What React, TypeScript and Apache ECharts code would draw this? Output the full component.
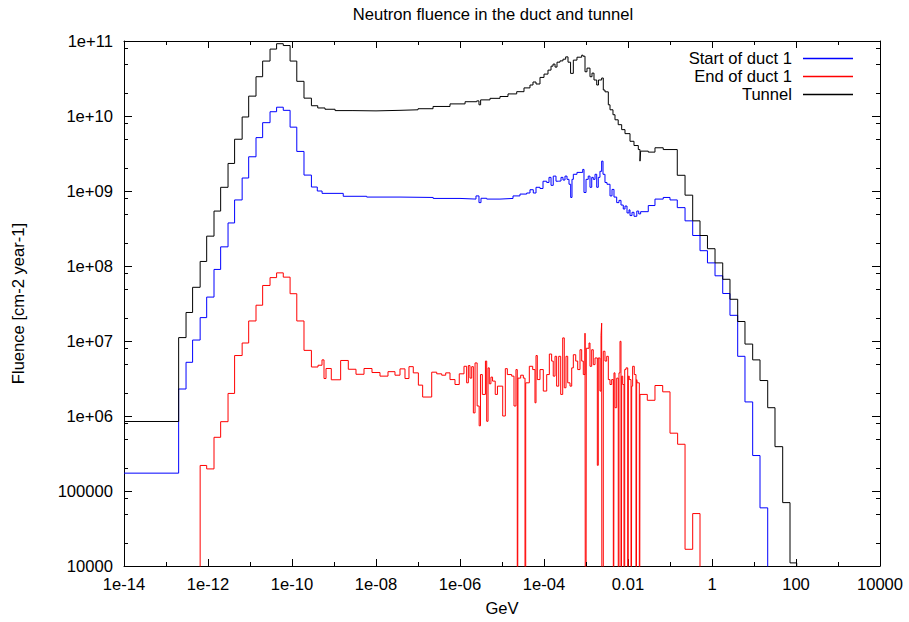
import React, { useEffect, useRef } from "react";
import * as echarts from "echarts";

const FONT = '"Liberation Sans", Arial, Helvetica, sans-serif';
const FS = 16.6;

const chartTitle = "Neutron fluence in the duct and tunnel";
const xAxisTitle = "GeV";
const yAxisTitle = "Fluence [cm-2 year-1]";
const seriesNames = ["Start of duct 1", "End of duct 1", "Tunnel"];
const seriesColors = ["#0000ff", "#ff0000", "#000000"];

const xTickExponents = [-14, -12, -10, -8, -6, -4, -2, 0, 2, 4];
const xTickLabels = ["1e-14", "1e-12", "1e-10", "1e-08", "1e-06", "1e-04", "0.01", "1", "100", "10000"];
const xMinorTicks = [1e-13, 1e-11, 1e-9, 1e-7, 1e-5, 1e-3, 1e-1, 10, 1e3];
const yTickExponents = [4, 5, 6, 7, 8, 9, 10, 11];
const yTickLabels = ["10000", "100000", "1e+06", "1e+07", "1e+08", "1e+09", "1e+10", "1e+11"];
const yMinorTicks = [
  2e4, 5e4, 8e4, 2e5, 5e5, 8e5, 2e6, 5e6, 8e6, 2e7, 5e7, 8e7,
  2e8, 5e8, 8e8, 2e9, 5e9, 8e9, 2e10, 5e10, 8e10,
];

// [energy (GeV, left edge of bin), fluence]; 0 = empty bin
const startPoints: [number, number][] = [
  [1e-14, 1.73e5], [2.0e-13, 2.29e6], [3.0e-13, 5.2e6], [4.3e-13, 1.03e7], [6.5e-13, 2.05e7],
  [9.3e-13, 3.85e7], [1.39e-12, 9.0e7], [2.0e-12, 1.8e8], [3.0e-12, 3.75e8], [4.3e-12, 7.6e8],
  [6.5e-12, 1.49e9], [9.3e-12, 2.86e9], [1.39e-11, 5.15e9], [2.0e-11, 8.15e9], [3.0e-11, 1.14e10],
  [4.3e-11, 1.31e10], [6.2e-11, 1.19e10], [9.0e-11, 7.1e9], [1.3e-10, 3.37e9], [1.93e-10, 1.63e9],
  [2.9e-10, 1.13e9], [4.0e-10, 1.0e9], [5.2e-10, 9.3e8], [1.66e-9, 8.5e8], [6.0e-9, 8.3e8],
  [3.73e-8, 8.2e8], [2.3e-7, 7.96e8], [1.0e-6, 7.8e8], [2.4e-6, 8.6e8], [2.83e-6, 7.0e8],
  [3.16e-6, 8.0e8], [4.32e-6, 7.8e8], [8.96e-6, 7.96e8], [1.83e-5, 8.6e8], [2.68e-5, 9.1e8],
  [3.87e-5, 9.4e8], [4.64e-5, 1.04e9], [5.56e-5, 9.4e8], [6.45e-5, 1.12e9], [8.03e-5, 1.08e9],
  [9.47e-5, 1.35e9], [1.16e-4, 1.3e9], [1.315e-4, 1.52e9], [1.47e-4, 1.19e9], [1.66e-4, 1.58e9],
  [1.93e-4, 1.35e9], [2.19e-4, 1.36e9], [2.54e-4, 1.52e9], [2.83e-4, 1.4e9], [3.16e-4, 1.58e9],
  [3.53e-4, 1.43e9], [3.94e-4, 1.23e9], [4.32e-4, 8.2e8], [4.64e-4, 1.43e9], [4.99e-4, 1.67e9],
  [6.1e-4, 1.77e9], [8.35e-4, 1.94e9], [8.96e-4, 9.55e8], [1.0e-3, 1.43e9], [1.13e-3, 1.58e9],
  [1.245e-3, 1.12e9], [1.37e-3, 1.52e9], [1.49e-3, 1.43e9], [1.64e-3, 1.67e9], [1.8e-3, 1.12e9],
  [1.96e-3, 1.52e9], [2.15e-3, 1.83e9], [2.36e-3, 2.5e9], [2.54e-3, 1.67e9], [2.83e-3, 1.3e9],
  [3.16e-3, 1.23e9], [3.73e-3, 8.6e8], [4.16e-3, 1.05e9], [4.64e-3, 8.3e8], [5.38e-3, 7.0e8],
  [6.1e-3, 7.5e8], [6.81e-3, 6.5e8], [7.72e-3, 5.75e8], [8.48e-3, 6.3e8], [9.47e-3, 5.1e8],
  [1.056e-2, 5.6e8], [1.116e-2, 4.7e8], [1.245e-2, 5.2e8], [1.39e-2, 4.6e8], [1.62e-2, 5.4e8],
  [1.8e-2, 4.95e8], [2.0e-2, 5.3e8], [3.04e-2, 6.4e8], [4.39e-2, 7.8e8], [6.9e-2, 8.2e8],
  [1.0e-1, 7.6e8], [1.49e-1, 6.0e8], [2.28e-1, 4.0e8], [3.47e-1, 2.55e8], [5.18e-1, 1.6e8],
  [7.8e-1, 1.1e8], [1.18, 7.4e7], [1.8, 4.3e7], [2.68, 2.2e7], [4.09, 6.25e6],
  [6.1, 1.54e6], [9.3, 2.97e5], [13.9, 5.96e4], [21.2, 0],
];

const endPoints: [number, number][] = [
  [4.3e-13, 0], [6.5e-13, 2.19e5], [9.3e-13, 1.97e5], [1.39e-12, 5.2e5], [2.0e-12, 8.4e5],
  [3.0e-12, 2.0e6], [4.3e-12, 6.4e6], [6.5e-12, 9.4e6], [9.3e-12, 1.85e7], [1.39e-11, 3.0e7],
  [2.0e-11, 5.5e7], [3.0e-11, 7.0e7], [4.3e-11, 8.1e7], [6.2e-11, 7.1e7], [9.0e-11, 4.27e7],
  [1.3e-10, 1.85e7], [1.93e-10, 7.5e6], [2.9e-10, 4.5e6], [4.16e-10, 4.75e6], [5.18e-10, 5.6e6],
  [5.78e-10, 3.16e6], [6.45e-10, 4.3e6], [8.62e-10, 3.04e6], [1.44e-9, 5.5e6], [2.19e-9, 4.2e6],
  [3.34e-9, 3.6e6], [5.18e-9, 4.3e6], [8.03e-9, 3.8e6], [1.245e-8, 3.4e6], [1.93e-8, 3.9e6],
  [2.83e-8, 3.5e6], [3.73e-8, 4.25e6], [4.9e-8, 3.16e6], [6.1e-8, 4.55e6], [7.72e-8, 3.76e6],
  [1.02e-7, 2.58e6], [1.29e-7, 1.79e6], [2.12e-7, 3.84e6], [2.79e-7, 3.65e6], [3.67e-7, 3.5e6],
  [4.57e-7, 3.76e6], [5.78e-7, 3.06e6], [7.6e-7, 2.63e6], [9.6e-7, 3.65e6], [1.245e-6, 4.6e6],
  [1.44e-6, 2.77e6], [1.58e-6, 4.7e6], [1.73e-6, 3.2e6], [1.9e-6, 4.55e6], [2.08e-6, 1.1e6],
  [2.28e-6, 5.1e6], [2.56e-6, 1.36e6], [2.86e-6, 7.4e5], [3.07e-6, 3.57e6], [3.4e-6, 1.94e6],
  [4.03e-6, 5.4e6], [4.32e-6, 8.5e5], [4.65e-6, 4.38e6], [4.98e-6, 2.69e6], [5.45e-6, 3.3e6],
  [5.96e-6, 2.92e6], [6.9e-6, 1.94e6], [7.8e-6, 2.5e6], [1.04e-5, 1.0e6], [1.2e-5, 4.28e6],
  [1.34e-5, 3.57e6], [1.7e-5, 3.4e6], [1.93e-5, 1.36e6], [2.15e-5, 4.16e6], [2.31e-5, 0],
  [2.4e-5, 3.2e6], [2.79e-5, 3.5e6], [3.22e-5, 3.2e6], [3.53e-5, 0], [3.67e-5, 2.77e6],
  [4.47e-5, 4.6e6], [5.38e-5, 4.16e6], [6.1e-5, 1.5e6], [6.45e-5, 6.4e6], [6.93e-5, 3.06e6],
  [8.03e-5, 4.16e6], [9.63e-5, 2.15e6], [1.16e-4, 3.57e6], [1.34e-4, 6.7e6], [1.52e-4, 5.4e6],
  [1.66e-4, 3.4e6], [1.83e-4, 6.25e6], [2.0e-4, 2.5e6], [2.24e-4, 6.25e6], [2.5e-4, 1.94e6],
  [2.79e-4, 1.1e7], [3.04e-4, 2.38e6], [3.34e-4, 6.25e6], [3.67e-4, 2.77e6], [4.16e-4, 2.5e6],
  [4.57e-4, 4.38e6], [4.99e-4, 6.56e6], [5.69e-4, 5.4e6], [6.35e-4, 4.16e6], [7.2e-4, 7.65e6],
  [7.9e-4, 5.4e6], [8.62e-4, 3.57e6], [9.47e-4, 1.27e7], [9.84e-4, 0], [1.016e-3, 8.0e6],
  [1.18e-3, 9.4e6], [1.245e-3, 4.6e6], [1.366e-3, 7.65e6], [1.49e-3, 4.84e6], [1.64e-3, 5.94e6],
  [1.86e-3, 2.2e5], [1.96e-3, 5.94e6], [2.15e-3, 2.15e6], [2.28e-3, 1.19e7], [2.36e-3, 1.73e7],
  [2.43e-3, 0], [2.58e-3, 7.3e6], [2.83e-3, 5.4e6], [3.11e-3, 6.25e6], [3.4e-3, 3.06e6],
  [3.73e-3, 2.63e6], [4.09e-3, 3.06e6], [4.47e-3, 0], [4.64e-3, 3.76e6], [4.9e-3, 1.29e6],
  [5.38e-3, 3.2e6], [5.86e-3, 0], [6.1e-3, 3.76e6], [6.45e-3, 9.9e6], [6.81e-3, 0],
  [7.07e-3, 3.4e6], [7.48e-3, 2.63e6], [8.03e-3, 0], [8.35e-3, 4.16e6], [8.96e-3, 4.38e6],
  [9.84e-3, 0], [1.02e-2, 3.4e6], [1.07e-2, 3.06e6], [1.18e-2, 0], [1.225e-2, 2.5e6],
  [1.29e-2, 4.6e6], [1.41e-2, 3.57e6], [1.55e-2, 0], [1.61e-2, 3.06e6], [1.66e-2, 2.77e6],
  [1.86e-2, 0], [1.93e-2, 1.94e6], [2.88e-2, 1.62e6], [4.39e-2, 2.55e6], [6.7e-2, 2.1e6],
  [1.0e-1, 5.9e5], [1.52e-1, 4.2e5], [2.28e-1, 1.67e4], [3.47e-1, 5.0e4], [5.18e-1, 0],
];

const tunnelPoints: [number, number][] = [
  [1e-14, 8.45e5], [2.0e-13, 1.11e7], [3.0e-13, 2.4e7], [4.3e-13, 5.2e7], [6.5e-13, 1.15e8],
  [9.3e-13, 2.5e8], [1.39e-12, 5.4e8], [2.0e-12, 1.12e9], [3.0e-12, 2.33e9], [4.3e-12, 4.9e9],
  [6.5e-12, 9.7e9], [9.3e-12, 1.84e10], [1.39e-11, 3.34e10], [2.0e-11, 5.4e10], [3.0e-11, 7.8e10],
  [4.3e-11, 9.2e10], [6.2e-11, 8.7e10], [9.0e-11, 5.4e10], [1.3e-10, 2.9e10], [1.93e-10, 1.73e10],
  [2.9e-10, 1.37e10], [4.1e-10, 1.28e10], [6.1e-10, 1.23e10], [1.06e-9, 1.18e10], [2.83e-9, 1.17e10],
  [1.0e-8, 1.19e10], [3.73e-8, 1.21e10], [1.0e-7, 1.25e10], [2.28e-7, 1.34e10], [5.78e-7, 1.45e10],
  [1.32e-6, 1.55e10], [2.5e-6, 1.59e10], [2.83e-6, 1.41e10], [3.1e-6, 1.64e10], [5.18e-6, 1.72e10],
  [8.96e-6, 1.82e10], [1.39e-5, 1.97e10], [2.24e-5, 2.11e10], [3.34e-5, 2.37e10], [4.64e-5, 2.59e10],
  [5.47e-5, 2.84e10], [6.45e-5, 2.67e10], [8.03e-5, 3.27e10], [1.0e-4, 3.62e10], [1.245e-4, 4.09e10],
  [1.47e-4, 4.62e10], [1.64e-4, 4.92e10], [1.83e-4, 4.49e10], [2.04e-4, 5.22e10], [2.4e-4, 5.43e10],
  [2.83e-4, 5.72e10], [3.28e-4, 6.14e10], [3.73e-4, 5.22e10], [4.29e-4, 3.7e10], [4.99e-4, 5.56e10],
  [6.1e-4, 6.08e10], [7.9e-4, 6.47e10], [8.48e-4, 6.27e10], [9.47e-4, 3.89e10], [1.056e-3, 4.35e10],
  [1.245e-3, 3.34e10], [1.389e-3, 3.73e10], [1.55e-3, 3.02e10], [1.8e-3, 2.59e10], [1.98e-3, 3.02e10],
  [2.36e-3, 3.21e10], [2.58e-3, 2.22e10], [2.83e-3, 2.1e10], [3.4e-3, 1.41e10], [3.73e-3, 1.21e10],
  [4.39e-3, 1.04e10], [4.9e-3, 8.9e9], [5.84e-3, 7.66e9], [7.07e-3, 6.58e9], [8.48e-3, 5.82e9],
  [1.116e-2, 4.6e9], [1.389e-2, 4.04e9], [1.76e-2, 3.57e9], [1.93e-2, 2.5e9], [2.0e-2, 3.4e9],
  [3.04e-2, 3.3e9], [4.39e-2, 3.77e9], [6.9e-2, 3.57e9], [1.49e-1, 1.62e9], [2.28e-1, 8.8e8],
  [3.47e-1, 4.0e8], [5.18e-1, 2.55e8], [7.8e-1, 1.7e8], [1.18, 1.1e8], [1.8, 6.65e7],
  [2.68, 3.6e7], [4.09, 1.82e7], [6.1, 9.1e6], [9.3, 5.6e6], [13.9, 2.97e6],
  [21.2, 1.29e6], [31.6, 3.9e5], [48.2, 7.0e4], [72, 1.1e4], [104, 0],
];

const X_MIN = 1e-14;
const X_MAX = 1e4;
const Y_MIN = 1e4;
const Y_MAX = 1e11;
const EMPTY_LEVEL = 1e-2; // empty bins drawn below the axis (clipped)

const toData = (pts: [number, number][]) =>
  pts.map(([e, f]) => [e, f > 0 ? f : EMPTY_LEVEL]);

const xFmt = (v: number) => {
  const i = xTickExponents.indexOf(Math.round(Math.log10(v)));
  return i >= 0 ? xTickLabels[i] : "";
};
const yFmt = (v: number) => {
  const i = yTickExponents.indexOf(Math.round(Math.log10(v)));
  return i >= 0 ? yTickLabels[i] : "";
};

const axisLineStyle = { show: true, lineStyle: { color: "#000", width: 1 } };

function buildOption(): any {
  const baseX = {
    type: "log",
    logBase: 10,
    min: X_MIN,
    max: X_MAX,
    interval: 2,
    axisLine: axisLineStyle,
    axisTick: { show: true, inside: true, length: 7, lineStyle: { color: "#000", width: 1 } },
    splitLine: { show: false },
    minorTick: { show: false },
    minorSplitLine: { show: false },
  };
  const baseY = {
    type: "log",
    logBase: 10,
    min: Y_MIN,
    max: Y_MAX,
    interval: 1,
    axisLine: axisLineStyle,
    axisTick: { show: true, inside: true, length: 8, lineStyle: { color: "#000", width: 1 } },
    splitLine: { show: false },
    minorTick: { show: false },
    minorSplitLine: { show: false },
  };
  const seriesLine = (idx: number, pts: [number, number][]) => ({
    name: seriesNames[idx],
    type: "line",
    step: "end",
    data: toData(pts),
    symbol: "none",
    showSymbol: false,
    clip: true,
    color: seriesColors[idx],
    lineStyle: { color: seriesColors[idx], width: 1 },
    z: 2 + idx,
  });
  return {
    animation: false,
    backgroundColor: "#ffffff",
    textStyle: { fontFamily: FONT },
    title: {
      text: chartTitle,
      left: 493,
      top: 6,
      padding: 0,
      textAlign: "center",
      textStyle: { fontSize: FS, fontWeight: "normal", color: "#000", fontFamily: FONT },
    },
    legend: {
      data: seriesNames,
      orient: "vertical",
      right: 51,
      top: 45,
      align: "right",
      icon: "rect",
      itemWidth: 50,
      itemHeight: 1.5,
      itemGap: 1,
      selectedMode: false,
      textStyle: { fontSize: FS, color: "#000", fontFamily: FONT, padding: [0, 6, 0, 0] },
    },
    grid: { left: 124, right: 29, top: 41, bottom: 52, containLabel: false },
    xAxis: [
      {
        ...baseX,
        position: "bottom",
        name: xAxisTitle,
        nameLocation: "middle",
        nameGap: 34,
        nameTextStyle: { fontSize: FS, color: "#000", fontFamily: FONT },
        axisLabel: { show: true, margin: 10, fontSize: FS, color: "#000", fontFamily: FONT, formatter: xFmt },
      },
      { ...baseX, position: "top", axisLabel: { show: false } },
    ],
    yAxis: [
      {
        ...baseY,
        position: "left",
        name: yAxisTitle,
        nameLocation: "middle",
        nameGap: 97,
        nameTextStyle: { fontSize: FS, color: "#000", fontFamily: FONT },
        axisLabel: { show: true, margin: 11, fontSize: FS, color: "#000", fontFamily: FONT, formatter: yFmt },
      },
      { ...baseY, position: "right", axisLabel: { show: false } },
    ],
    series: [
      seriesLine(0, startPoints),
      seriesLine(1, endPoints),
      seriesLine(2, tunnelPoints),
      {
        type: "custom",
        silent: true,
        clip: false,
        z: 5,
        data: yMinorTicks.map((v) => [X_MIN, v]),
        renderItem: (params: any, api: any) => {
          const p = api.coord([X_MIN, api.value(1)]);
          const cs = params.coordSys;
          const y = Math.round(p[1]) + 0.5;
          return {
            type: "group",
            children: [
              { type: "line", shape: { x1: cs.x, y1: y, x2: cs.x + 4, y2: y }, style: { stroke: "#000", lineWidth: 1 } },
              { type: "line", shape: { x1: cs.x + cs.width, y1: y, x2: cs.x + cs.width - 4, y2: y }, style: { stroke: "#000", lineWidth: 1 } },
            ],
          };
        },
      },
      {
        type: "custom",
        silent: true,
        clip: false,
        z: 5,
        data: xMinorTicks.map((v) => [v, Y_MIN]),
        renderItem: (params: any, api: any) => {
          const p = api.coord([api.value(0), Y_MIN]);
          const cs = params.coordSys;
          const x = Math.round(p[0]) + 0.5;
          return {
            type: "group",
            children: [
              { type: "line", shape: { x1: x, y1: cs.y + cs.height, x2: x, y2: cs.y + cs.height - 4 }, style: { stroke: "#000", lineWidth: 1 } },
              { type: "line", shape: { x1: x, y1: cs.y, x2: x, y2: cs.y + 4 }, style: { stroke: "#000", lineWidth: 1 } },
            ],
          };
        },
      },
    ],
  };
}

export default function App() {
  const ref = useRef<HTMLDivElement>(null);
  useEffect(() => {
    if (!ref.current) return;
    const chart = echarts.init(ref.current, undefined, { renderer: "svg" });
    chart.setOption(buildOption());
    return () => chart.dispose();
  }, []);
  return (
    <div
      ref={ref}
      style={{ position: "fixed", left: 0, top: 0, width: 909, height: 622, background: "#ffffff" }}
    />
  );
}
